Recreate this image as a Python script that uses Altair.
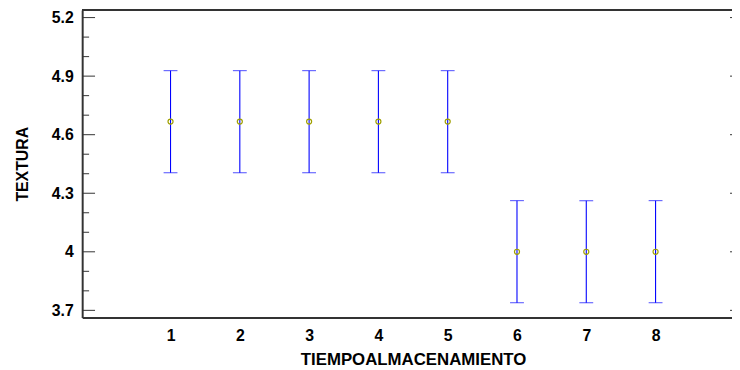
import altair as alt
import pandas as pd

# ---- data ----
levels = [1, 2, 3, 4, 5, 6, 7, 8]
means = [4.667, 4.667, 4.667, 4.667, 4.667, 4.0, 4.0, 4.0]
lower = [4.405, 4.405, 4.405, 4.405, 4.405, 3.739, 3.739, 3.739]
upper = [4.928, 4.928, 4.928, 4.928, 4.928, 4.262, 4.262, 4.262]

y_major = [3.7, 4.0, 4.3, 4.6, 4.9, 5.2]
y_minor = [3.8, 3.9, 4.1, 4.2, 4.4, 4.5, 4.7, 4.8, 5.0, 5.1]
x_ticks = [1, 2, 3, 4, 5, 6, 7, 8]

df = pd.DataFrame({"level": levels, "mean": means, "lower": lower, "upper": upper})
major_df = pd.DataFrame({"v": y_major})
minor_df = pd.DataFrame({"v": y_minor})

W, H = 657, 311
FRAME = "#333333"
FONT = "Liberation Sans"

xs = alt.Scale(domain=[-0.275, 9.103], nice=False, zero=False)
ys = alt.Scale(domain=[3.663, 5.239], nice=False, zero=False)

x_axis = alt.Axis(
    values=x_ticks, format="d", ticks=False, tickSize=0, grid=False,
    domain=True, domainColor=FRAME, domainWidth=2,
    labelBaseline="alphabetic", labelPadding=23.5, labelFontSize=16,
    title="TIEMPOALMACENAMIENTO", titleX=334.5, titleY=47,
    titleBaseline="alphabetic", titleAlign="center", titleFontSize=17,
)
y_axis = alt.Axis(
    orient="left",
    values=y_major, format=".1~f", ticks=False, tickSize=0, grid=False,
    domain=True, domainColor=FRAME, domainWidth=2,
    labelPadding=9, labelFontSize=16, title="TEXTURA", titlePadding=21,
    titleFontSize=16,
)

bars = alt.Chart(df).mark_errorbar(
    color="#0000FF",
    ticks={"size": 14, "thickness": 1, "color": "#0000FF"},
    rule={"strokeWidth": 1.1, "color": "#0000FF"},
).encode(
    x=alt.X("level:Q", scale=xs, axis=x_axis),
    y=alt.Y("lower:Q", scale=ys, axis=y_axis),
    y2="upper:Q",
)

pts = alt.Chart(df).mark_point(
    shape="circle", size=26, filled=False, color="#A0A000", strokeWidth=1.2, opacity=1
).encode(
    x=alt.X("level:Q", scale=xs),
    y=alt.Y("mean:Q", scale=ys),
)

left_major = alt.Chart(major_df).mark_rule(color=FRAME, strokeWidth=1).encode(
    y=alt.Y("v:Q", scale=ys), x=alt.value(0), x2=alt.value(13)
)
left_minor = alt.Chart(minor_df).mark_rule(color=FRAME, strokeWidth=1).encode(
    y=alt.Y("v:Q", scale=ys), x=alt.value(0), x2=alt.value(7)
)
right_major = alt.Chart(major_df).mark_rule(color=FRAME, strokeWidth=1).encode(
    y=alt.Y("v:Q", scale=ys), x=alt.value(W - 2), x2=alt.value(W)
)
top_line = alt.Chart(df).mark_rule(color=FRAME, strokeWidth=2).encode(
    x=alt.value(0), x2=alt.value(W), y=alt.value(0)
)

chart = alt.layer(bars, pts, left_major, left_minor, right_major, top_line).properties(
    width=W, height=H,
    autosize=alt.AutoSizeParams(type="none"),
    padding={"left": 75, "top": 0, "right": 0, "bottom": 50},
).configure_view(stroke=None).configure_axis(
    labelFont=FONT, labelFontWeight="bold", labelColor="#000000",
    titleFont=FONT, titleFontWeight="bold", titleColor="#000000",
)

chart.save("out.html", embed_options={"renderer": "svg", "actions": False})
